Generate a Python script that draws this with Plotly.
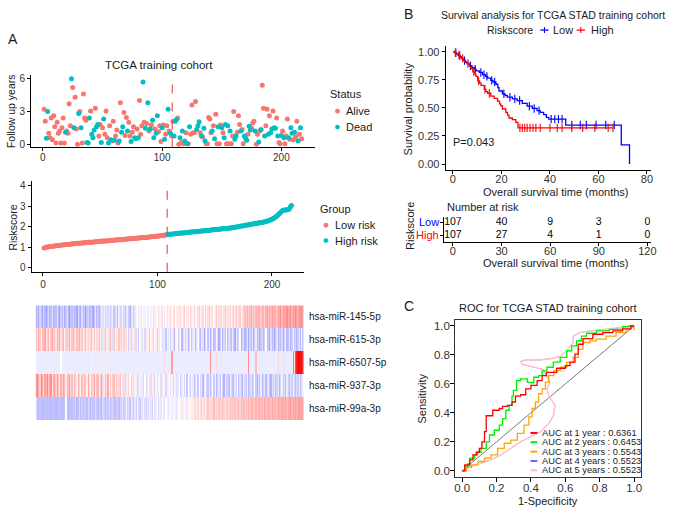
import bisect
import plotly.graph_objects as go

# ---------------- data ----------------
followup_low = [3.2, 2.1, 0.55, 3.0, 1.0, 0.6, 2.4, 0.4, 2.6, 1.6,
                0.1, 2.0, 1.0, 1.2, 0.1, 1.5, 2.4, 0.1, 1.1, 1.2,
                1.0, 3.7, 1.7, 6.0, 5.2, 1.5, 4.3, 1.4, 0.0, 2.8,
                3.0, 1.5, 0.1, 4.6, 2.4, 2.2, 0.15, 0.1, 2.4, 3.05,
                0.9, 0.6, 1.3, 3.3, 1.6, 1.8, 0.75, 1.8, 0.15, 1.5,
                2.3, 0.9, 3.05, 0.6, 0.1, 1.7, 0.4, 0.3, 2.1, 0.35,
                0.75, 1.3, 0.1, 0.3, 3.8, 1.1, 1.6, 2.9, 0.8, 2.45,
                1.2, 2.0, 0.75, 0.25, 1.1, 1.6, 0.6, 0.5, 1.4, 0.6,
                4.0, 0.9, 1.7, 5.7, 2.0, 1.45, 1.9, 3.8, 1.2, 1.4,
                1.75, 2.2, 0.6, 1.4, 1.0, 2.6, 1.15, 1.7, 0.25, 1.5,
                1.75, 0.45, 0.9, 1.7, 3.2, 1.2, 1.0, 0.75]
status_low = [0, 0, 1, 1, 0, 0, 0, 0, 0, 0,
              0, 0, 0, 0, 0, 0, 0, 0, 1, 0,
              0, 0, 0, 1, 0, 1, 0, 0, 0, 1,
              0, 1, 0, 0, 0, 0, 1, 1, 1, 0,
              1, 1, 1, 0, 1, 1, 0, 0, 1, 0,
              1, 0, 0, 0, 1, 0, 1, 0, 0, 1,
              0, 0, 0, 1, 0, 1, 1, 0, 0, 0,
              1, 0, 0, 1, 0, 0, 1, 1, 0, 1,
              0, 0, 0, 1, 0, 1, 0, 1, 0, 1,
              0, 1, 1, 0, 1, 1, 0, 0, 0, 1,
              0, 1, 0, 0, 1, 0, 1, 0]
followup_high = [2.1, 0.75, 2.1, 2.25, 2.4, 0.0, 0.6, 0.15, 1.2, 0.05,
                 0.3, 1.05, 0.05, 0.05, 1.6, 0.9, 3.6, 1.05, 1.05, 3.9,
                 1.35, 1.7, 2.05, 1.05, 0.75, 0.65, 1.45, 0.3, 0.05, 0.05,
                 2.45, 2.3, 1.05, 1.2, 1.7, 0.5, 2.75, 0.05, 1.6, 0.05,
                 1.75, 1.5, 1.05, 0.6, 1.8, 0.05, 1.7, 0.05, 1.2, 0.05,
                 0.75, 3.0, 0.45, 0.75, 1.1, 2.6, 1.8, 1.2, 1.35, 0.05,
                 0.75, 0.55, 0.35, 0.9, 1.65, 1.3, 1.45, 1.95, 2.1, 1.2,
                 0.0, 0.9, 0.2, 1.2, 1.35, 5.4, 3.3, 0.75, 1.7, 3.2,
                 0.9, 2.6, 1.05, 1.4, 3.05, 1.5, 1.45, 2.4, 0.75, 0.15,
                 0.05, 0.8, 1.2, 0.6, 0.05, 0.75, 2.3, 0.6, 0.45, 1.5,
                 1.0, 0.4, 1.1, 0.65, 2.1, 0.3, 0.9, 1.5, 0.5]
status_high = [0, 1, 1, 1, 0, 0, 1, 0, 1, 0,
               1, 0, 1, 0, 1, 0, 0, 0, 0, 0,
               1, 1, 1, 0, 1, 0, 1, 1, 0, 0,
               0, 0, 0, 1, 0, 1, 0, 0, 1, 0,
               0, 1, 0, 1, 1, 0, 1, 0, 1, 0,
               0, 0, 1, 1, 0, 0, 0, 1, 0, 0,
               1, 1, 1, 0, 1, 1, 0, 0, 0, 1,
               0, 0, 1, 0, 1, 0, 0, 1, 0, 0,
               1, 0, 1, 1, 0, 1, 1, 0, 1, 0,
               0, 1, 0, 1, 0, 0, 0, 1, 0, 1,
               1, 0, 1, 0, 0, 1, 0, 1, 0]

riskscore_low = [0.95, 0.97, 0.99, 1.00, 1.01, 1.02, 1.03, 1.04, 1.04, 1.05,
                 1.06, 1.07, 1.07, 1.08, 1.09, 1.09, 1.10, 1.11, 1.11, 1.12,
                 1.13, 1.13, 1.14, 1.14, 1.15, 1.16, 1.16, 1.17, 1.17, 1.18,
                 1.18, 1.19, 1.19, 1.20, 1.20, 1.21, 1.21, 1.22, 1.22, 1.23,
                 1.23, 1.24, 1.24, 1.25, 1.25, 1.26, 1.26, 1.27, 1.27, 1.28,
                 1.28, 1.29, 1.29, 1.30, 1.30, 1.30, 1.31, 1.31, 1.32, 1.32,
                 1.33, 1.33, 1.34, 1.34, 1.35, 1.35, 1.36, 1.36, 1.37, 1.37,
                 1.38, 1.38, 1.39, 1.39, 1.40, 1.40, 1.41, 1.41, 1.42, 1.42,
                 1.43, 1.43, 1.44, 1.44, 1.45, 1.45, 1.46, 1.46, 1.47, 1.47,
                 1.48, 1.48, 1.49, 1.50, 1.50, 1.51, 1.51, 1.52, 1.53, 1.53,
                 1.54, 1.55, 1.55, 1.56, 1.57, 1.58, 1.59, 1.60]
riskscore_high = [1.62, 1.62, 1.63, 1.63, 1.64, 1.64, 1.65, 1.66, 1.66, 1.67,
                  1.67, 1.68, 1.68, 1.69, 1.69, 1.70, 1.71, 1.71, 1.72, 1.72,
                  1.73, 1.73, 1.74, 1.74, 1.75, 1.76, 1.76, 1.77, 1.77, 1.78,
                  1.78, 1.79, 1.80, 1.80, 1.81, 1.81, 1.82, 1.82, 1.83, 1.84,
                  1.84, 1.85, 1.85, 1.86, 1.87, 1.87, 1.88, 1.88, 1.89, 1.90,
                  1.90, 1.91, 1.91, 1.92, 1.93, 1.93, 1.94, 1.95, 1.96, 1.97,
                  1.98, 1.99, 2.00, 2.01, 2.02, 2.03, 2.04, 2.05, 2.06, 2.07,
                  2.08, 2.09, 2.10, 2.11, 2.12, 2.13, 2.14, 2.15, 2.16, 2.17,
                  2.18, 2.19, 2.20, 2.21, 2.22, 2.23, 2.25, 2.27, 2.29, 2.31,
                  2.33, 2.36, 2.39, 2.42, 2.46, 2.50, 2.55, 2.60, 2.66, 2.72,
                  2.77, 2.79, 2.80, 2.81, 2.82, 2.83, 2.85, 2.95, 3.03]

mirna_names = ["hsa-miR-145-5p", "hsa-miR-615-3p", "hsa-miR-6507-5p",
               "hsa-miR-937-3p", "hsa-miR-99a-3p"]
expr_mir145 = [-1.2, -0.8, -1.4, -0.6, -1.0, -1.3, -0.7, -1.1, -1.5, -0.9,
               -0.6, -1.2, -1.0, -0.5, -1.3, -0.9, -1.1, -0.4, -1.2, -1.4,
               -0.8, -1.0, -0.6, -1.3, -0.9, -0.5, -1.1, -1.6, -0.8, -1.0,
               -0.7, -1.2, -0.9, -1.4, -0.6, -1.0, -1.3, -0.5, -1.1, -0.8,
               -1.5, -0.9, -0.6, -1.2, -1.0, -0.7, -1.4, -0.9, -0.4, -1.1,
               -0.8, -1.3, -0.6, -0.3, -0.5, -0.2, -0.7, -0.4, -0.6, -0.3,
               -0.8, -0.5, -0.2, -0.9, -0.6, -0.4, -1.0, -0.3, -0.7, -0.5,
               -0.2, -0.6, -0.9, -0.4, -0.3, -0.7, -1.1, -0.5, -0.2, -0.8,
               -0.4, -0.1, 0.1, -0.3, 0.2, -0.5, 0.0, 0.3, -0.2, 0.1,
               0.2, -0.4, 0.0, 0.3, -0.1, 0.4, -0.3, 0.2, 0.0, 0.5,
               0.3, -0.2, 0.6, 0.1, 0.4, -0.1, 0.5, 0.2, 0.3, 0.6,
               0.1, 0.4, 0.7, 0.0, 0.3, 0.5, -0.2, 0.6, 0.2, 0.4,
               0.8, 0.1, 0.3, 0.5, 0.0, 0.7, 0.4, 0.2, 0.6, 0.3,
               -0.1, 0.5, 0.8, 0.2, 0.4, 0.6, 0.1, 0.7, 0.3, 0.5,
               0.9, 0.2, 0.4, 0.6, 0.0, 0.5, 0.8, 0.3, 0.6, 0.4,
               0.7, 0.2, 0.5, 0.9, 0.3, 0.6, 0.4, 0.8, 0.1, 0.5,
               0.7, 0.4, 0.9, 0.3, 0.6, 0.8, 0.2, 0.5, 0.7, 1.0,
               0.9, 1.2, 0.7, 1.0, 1.3, 0.8, 1.1, 0.6, 1.2, 0.9,
               1.4, 1.0, 0.8, 1.3, 1.1, 0.7, 1.2, 1.5, 0.9, 1.3,
               1.1, 1.6, 1.0, 1.4, 1.2, 0.9, 1.5, 1.3, 1.7, 1.1,
               1.4, 1.6, 1.2, 1.8, 1.3, 1.5, 1.7, 1.2, 1.6, 1.4,
               1.8, 1.5, 1.3, 1.7, 1.6, 1.9, 1.4]
expr_mir615 = [1.0, 0.6, 1.3, 0.8, 0.2, 1.1, 0.9, 1.4, 0.5, 0.7,
               1.2, 0.3, 0.9, 1.5, 0.6, 1.0, 0.4, 1.1, 0.8, 1.3,
               0.5, 0.9, 1.2, 0.2, 0.8, 1.0, 0.6, 1.3, 0.4, 0.9,
               1.1, 0.7, 0.3, 1.0, 0.8, 1.2, 0.5, 0.9, 0.2, 0.7,
               1.0, 0.4, 0.8, -0.3, 0.6, 1.1, 0.3, 0.9, -0.2, 0.7,
               0.5, 1.0, 0.2, 0.8, -0.4, 0.6, 0.9, 0.3, -0.3, 0.7,
               1.0, 0.4, -0.5, 0.8, 0.2, 0.6, -0.2, 0.9, 0.5, -0.6,
               0.3, 0.7, -0.4, 0.5, 0.1, -0.7, 0.4, 0.8, -0.3, 0.2,
               0.6, -0.5, 0.3, -0.8, 0.1, 0.5, -0.4, 0.2, -0.6, 0.4,
               -0.2, 0.3, -0.7, 0.1, 0.5, -0.5, -0.1, 0.3, -0.8, 0.2,
               -0.4, 0.1, -0.6, 0.4, -0.3, -0.9, 0.2, -0.5, -0.1, -0.7,
               0.3, -0.6, -1.0, -0.2, 0.1, -0.8, -0.4, -0.1, -1.1, -0.5,
               0.2, -0.7, -0.3, -1.2, -0.6, 0.0, -0.9, -0.4, -0.2, -1.0,
               -0.6, 0.1, -0.8, -1.1, -0.3, -0.5, -1.3, -0.7, 0.0, -0.9,
               -0.4, -1.2, -0.6, -0.2, -1.0, -0.8, 0.2, -0.5, -1.3, -0.7,
               -0.3, -1.1, -0.6, -0.9, 0.0, -1.2, -0.5, -0.8, -1.0, -0.3,
               -0.7, -1.3, -0.4, -0.9, -0.6, 0.1, -1.1, -0.8, -0.5, -1.2,
               -0.9, -0.4, -1.3, -0.7, -1.0, -0.5, -1.2, -0.8, -0.3, -1.1,
               -0.6, -1.4, -0.9, -0.5, -1.2, -0.7, 0.0, -1.0, -0.8, -1.3,
               -0.5, -1.1, -0.7, -1.4, -0.9, -0.4, -1.2, -0.8, -1.0, -0.6,
               -1.3, -0.7, -0.2, -1.1, -0.9, -0.5, -1.2, -0.8, 0.1, -1.0,
               -0.6, -1.2, -0.8, -0.4, -1.1, -0.3, -0.9]
expr_mir6507 = [-0.3, -0.3, -0.3, -0.3, -0.3, -0.3, -0.3, -0.3, -0.3, -0.3,
                -0.3, -0.3, -0.3, -0.3, -0.3, -0.3, -0.3, -0.3, -0.3, -0.3,
                0.0, -0.3, -0.3, -0.3, -0.3, -0.3, -0.3, -0.3, -0.3, -0.3,
                -0.3, -0.3, -0.3, -0.3, -0.3, -0.3, -0.3, -0.3, -0.3, -0.3,
                -0.3, -0.3, -0.3, -0.3, -0.3, 0.2, -0.3, -0.3, -0.3, -0.3,
                -0.3, -0.3, -0.3, -0.3, -0.3, -0.3, -0.3, 0.3, -0.3, -0.3,
                -0.3, -0.3, -0.3, -0.3, -0.3, -0.3, -0.3, -0.3, -0.3, -0.3,
                -0.3, -0.3, -0.3, -0.3, -0.3, -0.3, -0.3, -0.3, -0.3, -0.3,
                -0.3, -0.3, -0.3, -0.3, -0.3, -0.3, -0.3, -0.3, -0.3, -0.3,
                -0.3, -0.3, -0.3, -0.3, -0.3, -0.3, -0.3, -0.3, -0.3, -0.3,
                -0.3, -0.3, -0.3, -0.3, 0.5, -0.3, -0.3, -0.3, -0.3, -0.3,
                1.5, -0.3, -0.3, -0.3, -0.3, -0.3, -0.3, -0.3, -0.3, -0.3,
                -0.3, -0.3, -0.3, -0.3, -0.3, -0.3, -0.3, -0.3, -0.3, -0.3,
                -0.3, -0.3, -0.3, -0.3, -0.3, -0.3, -0.3, -0.3, -0.3, -0.3,
                -0.3, 1.8, -0.3, -0.3, -0.3, -0.3, 0.6, -0.3, -0.3, -0.3,
                -0.3, -0.3, -0.3, -0.3, -0.3, -0.3, -0.3, -0.3, -0.3, -0.3,
                -0.3, -0.3, -0.3, -0.3, -0.3, -0.3, -0.3, -0.3, -0.3, -0.3,
                -0.3, -0.3, 1.8, -0.3, -0.3, -0.3, -0.3, -0.3, 1.0, -0.3,
                -0.3, -0.3, -0.3, -0.3, -0.3, -0.3, -0.3, -0.3, -0.3, -0.3,
                -0.3, -0.3, -0.3, -0.3, -0.3, -0.3, 0.7, -0.3, -0.3, -0.3,
                0.6, -0.3, -0.3, -0.3, -0.3, -0.3, -0.3, -0.3, 2.2, 0.5,
                2.8, 3.5, 3.8, 4.0, 3.6, 3.9, 3.2]
expr_mir937 = [1.6, 2.0, 1.2, 0.8, 1.8, 1.4, 0.6, 1.5, 1.1, 1.9,
               0.9, 1.3, 1.7, 0.5, 1.2, 1.6, 0.8, 1.4, 1.0, 0.4,
               1.3, 0.7, 1.5, 1.1, 0.3, 1.2, 0.9, 1.6, 0.6, 1.0,
               0.4, 1.1, 0.8, -0.2, 1.3, 0.7, 0.2, 1.0, 0.5, 1.2,
               0.8, 0.3, 1.4, 0.6, 0.0, 1.1, 0.7, 1.5, 0.4, 0.9,
               1.2, 0.2, 0.8, 1.6, 0.5, -0.3, 1.0, 0.6, 1.3, 0.3,
               0.9, -0.2, 0.7, 1.1, 0.4, 0.8, -0.4, 0.6, 1.0, 0.2,
               0.5, -0.5, 0.8, 0.3, -0.3, 0.7, 0.1, -0.6, 0.4, 0.6,
               -0.2, 0.3, 0.8, -0.5, 0.2, 0.5, -0.3, 0.7, 0.0, -0.6,
               0.4, 0.1, -0.4, 0.6, -0.2, 0.3, -0.7, 0.2, 0.5, -0.3,
               0.1, -0.5, 0.4, -0.1, 0.2, -0.6, 0.3, -0.2, 0.0, -0.4,
               0.2, -0.7, -0.1, 0.3, -0.5, -0.2, 0.1, -0.8, -0.3, 0.2,
               -0.6, -0.1, -0.9, 0.0, -0.4, -0.7, 0.2, -0.3, -1.0, -0.5,
               -0.2, -0.8, 0.1, -0.6, -0.3, -1.1, -0.4, 0.0, -0.7, -0.9,
               -0.3, -1.0, -0.5, 0.1, -0.8, -0.2, -1.1, -0.6, -0.4, -0.9,
               0.0, -0.7, -1.2, -0.3, -0.8, -0.5, -1.0, -0.2, -0.6, -0.9,
               -1.1, -0.4, -0.7, 0.1, -1.0, -0.5, -0.8, -1.2, -0.3, -0.6,
               -0.9, -0.2, -1.1, -0.7, -0.4, -1.0, -0.6, 0.0, -0.8, -1.2,
               -0.5, -0.9, -0.3, -1.1, -0.7, -0.4, -1.0, -0.6, -0.2, -0.9,
               -1.2, -0.5, -0.8, -0.3, -1.0, -0.7, -0.4, -1.1, -0.6, -0.2,
               -0.9, -0.5, -1.0, -0.3, -0.7, -1.1, -0.4, -0.8, -0.2, -0.6,
               -1.0, -0.5, -0.8, -0.3, -0.9, -0.6, -0.2]
expr_mir99a = [-0.6, -1.0, -1.1, -0.9, -1.0, -1.1, -1.0, -1.0, -0.9, -1.1,
               -1.0, -1.0, -1.1, -0.9, -1.0, -1.0, -1.1, -1.0, -1.0, -0.9,
               -1.0, -1.1, -1.0, -0.9, -0.1, -1.0, -1.0, -1.1, -0.9, -1.0,
               -0.8, -1.0, -0.7, -1.1, -0.9, -0.6, -1.0, -0.8, -1.1, -0.7,
               -0.9, -1.0, -0.6, -0.8, -1.1, -0.7, -0.9, -1.0, -0.5, -0.8,
               -1.0, -0.7, -0.9, -1.1, -0.6, -0.8, -1.0, -0.7, -0.9, -0.5,
               -1.0, -0.8, -0.6, -0.9, -1.1, -0.7, -0.8, -1.0, -0.6, -0.9,
               -0.4, -0.8, -0.6, -0.2, -0.7, -0.5, -0.9, -0.3, -0.6, -0.8,
               -0.4, -0.7, -0.2, -0.5, -0.8, -0.3, -0.6, -0.1, -0.5, -0.7,
               -0.3, -0.6, -0.2, -0.4, -0.7, -0.1, -0.5, -0.3, 0.0, -0.6,
               -0.2, -0.4, 0.1, -0.3, -0.5, 0.0, -0.2, -0.4, 0.2, -0.1,
               -0.3, 0.1, -0.2, 0.3, -0.4, 0.0, 0.2, -0.1, 0.4, -0.2,
               0.1, 0.3, -0.3, 0.2, 0.0, 0.4, -0.1, 0.3, 0.5, -0.6,
               0.2, 0.6, 0.3, 0.5, 0.8, 0.4, 0.7, 0.3, 0.6, 0.9,
               0.5, 0.8, 0.4, 0.7, 1.0, 0.6, 0.8, 0.5, 0.9, 0.7,
               0.6, 1.0, 0.7, 0.5, 0.9, 0.8, 0.6, 1.1, 0.7, 0.9,
               0.8, 1.0, 0.6, 0.9, 1.1, 0.7, 1.0, 0.8, 1.2, 0.9,
               1.0, 0.8, 1.2, 0.9, 1.1, 1.3, 0.8, 1.0, 1.2, 0.9,
               1.1, 1.3, 1.0, 1.2, 0.9, 1.4, 1.1, 1.0, 1.3, 1.2,
               1.0, 1.4, 1.2, 1.1, 1.3, 1.0, 1.5, 1.2, 1.1, 1.4,
               1.3, 1.2, 1.5, 1.1, 1.4, 1.3, 1.6, 1.2, 1.4, 1.3,
               1.5, 1.2, 1.4, 1.6, 1.3, 1.5, 1.4]

km_low_time = [0, 0.8, 1.5, 2.3, 3.0, 3.8, 4.5, 5.2, 6.0, 6.8,
               7.8, 8.8, 9.5, 10.9, 12.2, 13.5, 14.3, 15.6, 16.5, 17.7,
               18.5, 19.0, 20.4, 21.5, 22.4, 24.5, 26.5, 28.6, 30.6, 32.7,
               34.7, 36.0, 37.4, 38.5, 39.5, 46.5, 69.4, 72.8]
km_low_surv = [1.0, 0.99, 0.98, 0.965, 0.95, 0.935, 0.92, 0.905, 0.89, 0.875,
               0.86, 0.845, 0.83, 0.815, 0.795, 0.78, 0.765, 0.745, 0.73, 0.71,
               0.68, 0.65, 0.625, 0.61, 0.595, 0.58, 0.565, 0.54, 0.515, 0.495,
               0.475, 0.46, 0.44, 0.415, 0.40, 0.347, 0.17, 0.0]
km_low_censor = [1.2, 2.8, 4.8, 7.2, 9.2, 11.5, 12.8, 14.0, 16.0, 17.2, 21.0, 23.5,
                 25.5, 27.5, 31.5, 33.5, 35.5, 40.5, 42.0, 43.5, 45.0, 49.0, 52.5,
                 55.0, 59.0, 63.0, 66.5]
km_high_time = [0, 0.7, 1.4, 2.0, 2.8, 3.5, 4.3, 5.0, 5.8, 6.8,
                7.5, 8.2, 9.0, 9.5, 10.2, 11.0, 11.6, 12.9, 13.6, 14.3,
                15.6, 17.0, 18.4, 19.2, 19.7, 20.4, 21.8, 22.5, 23.1, 24.5,
                25.9, 26.8, 66.0]
km_high_surv = [1.0, 0.99, 0.98, 0.97, 0.955, 0.94, 0.925, 0.91, 0.895, 0.87,
                0.85, 0.82, 0.80, 0.78, 0.74, 0.72, 0.70, 0.665, 0.645, 0.63,
                0.605, 0.585, 0.56, 0.535, 0.52, 0.49, 0.46, 0.435, 0.41, 0.395,
                0.37, 0.322, 0.322]
km_high_censor = [1.0, 2.5, 4.0, 6.2, 8.6, 10.6, 13.2, 15.0, 27.6, 28.6, 29.6, 30.6,
                  31.8, 33.0, 34.2, 36.0, 40.0, 43.0, 45.0, 49.0, 53.5, 58.5, 64.0, 66.0]
risk_times = [0, 30, 60, 90, 120]
risk_low = [107, 40, 9, 3, 0]
risk_high = [107, 27, 4, 1, 0]
p_value_text = "P=0.043"

roc1_fpr = [0, 0.015, 0.044, 0.063, 0.082, 0.10, 0.115, 0.13, 0.14, 0.178,
            0.216, 0.235, 0.264, 0.29, 0.31, 0.34, 0.37, 0.40, 0.436, 0.465,
            0.49, 0.55, 0.60, 0.627, 0.656, 0.675, 0.703, 0.76, 0.818, 0.876,
            0.933, 0.98, 1.0]
roc1_tpr = [0, 0.04, 0.075, 0.11, 0.128, 0.155, 0.2, 0.27, 0.38, 0.418,
            0.43, 0.445, 0.452, 0.475, 0.516, 0.525, 0.566, 0.59, 0.623, 0.657,
            0.68, 0.708, 0.726, 0.75, 0.806, 0.874, 0.913, 0.943, 0.954, 0.966,
            0.98, 1.0, 1.0]
roc2_fpr = [0, 0.015, 0.034, 0.044, 0.073, 0.09, 0.11, 0.14, 0.159, 0.187,
            0.216, 0.235, 0.254, 0.273, 0.29, 0.298, 0.317, 0.34, 0.38, 0.407,
            0.417, 0.445, 0.465, 0.493, 0.53, 0.57, 0.608, 0.637, 0.665, 0.694,
            0.723, 0.78, 0.857, 0.933, 0.97, 1.0]
roc2_tpr = [0, 0.03, 0.05, 0.087, 0.11, 0.128, 0.155, 0.2, 0.247, 0.28,
            0.315, 0.36, 0.418, 0.452, 0.516, 0.555, 0.623, 0.635, 0.61, 0.607,
            0.646, 0.657, 0.69, 0.715, 0.75, 0.783, 0.829, 0.863, 0.897, 0.93,
            0.95, 0.966, 0.977, 0.995, 1.0, 1.0]
roc3_fpr = [0, 0.025, 0.054, 0.092, 0.13, 0.168, 0.206, 0.245, 0.283, 0.321,
            0.36, 0.388, 0.407, 0.426, 0.445, 0.465, 0.484, 0.503, 0.532, 0.57,
            0.608, 0.646, 0.675, 0.703, 0.742, 0.78, 0.837, 0.895, 0.952, 0.98,
            1.0]
roc3_tpr = [0, 0.023, 0.041, 0.064, 0.087, 0.11, 0.155, 0.19, 0.212, 0.258,
            0.315, 0.372, 0.43, 0.475, 0.532, 0.566, 0.612, 0.657, 0.692, 0.715,
            0.749, 0.783, 0.84, 0.886, 0.897, 0.909, 0.93, 0.954, 0.977, 0.99,
            0.97]
roc5_fpr = [0, 0.054, 0.11, 0.168, 0.226, 0.283, 0.34, 0.398, 0.455, 0.503,
            0.532, 0.54, 0.503, 0.493, 0.512, 0.47, 0.40, 0.35, 0.34, 0.37,
            0.45, 0.52, 0.57, 0.608, 0.646, 0.646, 0.685, 0.742, 0.837, 0.933,
            0.98, 1.0]
roc5_tpr = [0, 0.03, 0.053, 0.075, 0.11, 0.155, 0.2, 0.235, 0.27, 0.326,
            0.384, 0.452, 0.52, 0.566, 0.612, 0.70, 0.72, 0.735, 0.755, 0.765,
            0.765, 0.775, 0.79, 0.83, 0.886, 0.93, 0.954, 0.966, 0.977, 0.989,
            1.0, 1.0]
roc4_fpr = roc5_fpr  # 4-year curve lies under the 5-year curve (same AUC)
roc4_tpr = roc5_tpr
roc_diag = [0, 1]
auc_labels = ["AUC at 1 year : 0.6361", "AUC at 2 years : 0.6453",
              "AUC at 3 years : 0.5543", "AUC at 4 years : 0.5523",
              "AUC at 5 years : 0.5523"]

# ---------------- helpers ----------------
W, H = 677, 513
FONT = "Liberation Sans, Arial, Helvetica, sans-serif"
TXT = "#1a1a1a"
GG_RED, GG_TEAL = "#F8766D", "#00BFC4"


def fx(p):
    return p / W


def fy(p):
    return 1 - p / H


def ann(text, x, y, size=11, xa="center", ya="middle", angle=0, color=TXT):
    return dict(text=text, x=fx(x), y=fy(y), xref="paper", yref="paper",
                xanchor=xa, yanchor=ya, textangle=angle, showarrow=False,
                font=dict(size=size, color=color, family=FONT))


def axis(dom, rng, anchor, size=10, **kw):
    d = dict(domain=dom, range=rng, anchor=anchor, showgrid=False, zeroline=False,
             showline=True, linecolor="black", linewidth=1, ticks="outside",
             ticklen=3, tickwidth=1, tickcolor="black",
             tickfont=dict(size=size, color="#333333", family=FONT))
    d.update(kw)
    return d


def surv_at(times, survs, t):
    i = bisect.bisect_right(times, t) - 1
    return survs[max(i, 0)]


fig = go.Figure()

# ---------------- panel A: follow-up scatter ----------------
followup = followup_low + followup_high
status = status_low + status_high
n = len(followup)
idx = list(range(1, n + 1))
cut = len(followup_low) + 0.5
for st, col, name in [(0, GG_RED, "Alive"), (1, GG_TEAL, "Dead")]:
    fig.add_trace(go.Scatter(
        x=[i for i, s in zip(idx, status) if s == st],
        y=[v for v, s in zip(followup, status) if s == st],
        mode="markers", name=name, marker=dict(color=col, size=5),
        xaxis="x", yaxis="y", showlegend=False))

# risk score scatter
nl = len(riskscore_low)
fig.add_trace(go.Scatter(x=list(range(1, nl + 1)), y=riskscore_low, mode="markers",
                         marker=dict(color=GG_RED, size=5), xaxis="x2", yaxis="y2",
                         showlegend=False))
fig.add_trace(go.Scatter(x=list(range(nl + 1, nl + len(riskscore_high) + 1)),
                         y=riskscore_high, mode="markers",
                         marker=dict(color=GG_TEAL, size=5), xaxis="x2", yaxis="y2",
                         showlegend=False))

# heatmap
heat = [expr_mir145, expr_mir615, expr_mir6507, expr_mir937, expr_mir99a]
fig.add_trace(go.Heatmap(z=heat, x=list(range(1, len(expr_mir145) + 1)),
                         y=list(range(len(heat))), xaxis="x3", yaxis="y3",
                         colorscale=[[0, "#0000FF"], [0.5, "#FFFFFF"], [1, "#FF0000"]],
                         zmin=-4, zmax=4, showscale=False, hoverinfo="skip"))

# ---------------- panel B: KM ----------------
KM_BLUE, KM_RED = "#0000FF", "#FF0000"
for t, s, c, col in [(km_low_time, km_low_surv, km_low_censor, KM_BLUE),
                     (km_high_time, km_high_surv, km_high_censor, KM_RED)]:
    fig.add_trace(go.Scatter(x=t, y=s, mode="lines", line=dict(color=col, width=1.3, shape="hv"),
                             xaxis="x4", yaxis="y4", showlegend=False))
    fig.add_trace(go.Scatter(x=c, y=[surv_at(t, s, v) for v in c], mode="markers",
                             marker=dict(symbol="line-ns", size=6,
                                         line=dict(color=col, width=1.1)),
                             xaxis="x4", yaxis="y4", showlegend=False))

# risk table
for vals, yv in [(risk_low, 1), (risk_high, 0)]:
    fig.add_trace(go.Scatter(x=risk_times, y=[yv] * len(vals), mode="text",
                             text=[str(v) for v in vals],
                             textfont=dict(size=10.5, color="black", family=FONT),
                             xaxis="x5", yaxis="y5", showlegend=False))

# ---------------- panel C: ROC ----------------
ROC_COLS = ["#FF0000", "#00EE00", "#FFA500", "#6B6BF5", "#FFC0CB"]
fig.add_trace(go.Scatter(x=roc_diag, y=roc_diag, mode="lines",
                         line=dict(color="#555555", width=0.8),
                         xaxis="x6", yaxis="y6", showlegend=False))
roc_sets = [(roc4_fpr, roc4_tpr, ROC_COLS[3], "linear", 0.6),
            (roc5_fpr, roc5_tpr, ROC_COLS[4], "linear", 1.4),
            (roc3_fpr, roc3_tpr, ROC_COLS[2], "hv", 1.3),
            (roc2_fpr, roc2_tpr, ROC_COLS[1], "hv", 1.3),
            (roc1_fpr, roc1_tpr, ROC_COLS[0], "hv", 1.3)]
for fx_, ty_, col, shp, lw in roc_sets:
    fig.add_trace(go.Scatter(x=fx_, y=ty_, mode="lines",
                             line=dict(color=col, width=lw, shape=shp),
                             xaxis="x6", yaxis="y6", showlegend=False))

# ---------------- layout ----------------
shapes = []
for xa, ya in [("x", "y"), ("x2", "y2")]:
    shapes.append(dict(type="line", xref=xa, yref=ya + " domain", x0=cut, x1=cut, y0=0, y1=1,
                       line=dict(color="#E8554E", width=1.2, dash="dash")))

annotations = []
# panel letters
annotations += [ann("A", 5, 37, size=14, xa="left"), ann("B", 412, 12, size=14),
                ann("C", 412, 306, size=14)]
# panel A texts
annotations += [ann("TCGA training cohort", 160, 63, size=11.5),
                ann("Follow up years", 10, 110, size=10.5, angle=-90),
                ann("Riskscore", 12.5, 227, size=10.5, angle=-90),
                ann("Status", 330, 93, size=11, xa="left"),
                ann("Alive", 346.5, 110, size=11, xa="left"),
                ann("Dead", 346.5, 126, size=11, xa="left"),
                ann("Group", 320, 208.5, size=11, xa="left"),
                ann("Low risk", 335, 225, size=11, xa="left"),
                ann("High risk", 335, 240.5, size=11, xa="left")]
for cx, cy, col in [(340, 110, GG_RED), (340, 126, GG_TEAL),
                    (328.3, 225, GG_RED), (328.3, 240.5, GG_TEAL)]:
    r = 2.4
    shapes.append(dict(type="circle", xref="paper", yref="paper", x0=fx(cx - r), x1=fx(cx + r),
                       y0=fy(cy + r), y1=fy(cy - r), fillcolor=col, line=dict(width=0)))
row_top, row_h = 305.7, 23.12
for i, name in enumerate(mirna_names):
    annotations.append(ann(name, 308.7, row_top + row_h * (i + 0.5), size=10, xa="left"))

# panel B texts
annotations += [ann("Survival analysis for TCGA STAD training cohort", 557.5, 12.7, size=10.5),
                ann("Riskscore", 489.5, 28.3, size=10.5, xa="left"),
                ann("Low", 556, 28.3, size=11, xa="left"),
                ann("High", 594, 28.3, size=11, xa="left"),
                ann("Survival probability", 411.5, 108, size=11, angle=-90),
                ann("Overall survival time (months)", 560, 191, size=11),
                dict(text=p_value_text, x=-0.9, y=0.2, xref="x4", yref="y4", xanchor="left",
                     yanchor="middle", showarrow=False, font=dict(size=11, color=TXT, family=FONT)),
                ann("Number at risk", 448.3, 206.7, size=11, xa="left"),
                ann("Low", 444.5, 221.7, size=11, xa="right", color=KM_BLUE),
                ann("High", 444.5, 235.2, size=11, xa="right", color=KM_RED),
                ann("Riskscore", 414, 226, size=11, angle=-90),
                ann("Overall survival time (months)", 560, 263.3, size=11)]
for x0, x1, col in [(545, 553.3, KM_BLUE), (581.7, 590, KM_RED)]:
    shapes.append(dict(type="line", xref="paper", yref="paper", x0=fx(x0), x1=fx(x1),
                       y0=fy(28.3), y1=fy(28.3), line=dict(color=col, width=1.3)))
    xm = (x0 + x1) / 2
    shapes.append(dict(type="line", xref="paper", yref="paper", x0=fx(xm), x1=fx(xm),
                       y0=fy(31.3), y1=fy(25.3), line=dict(color=col, width=1.1)))

# panel C texts
annotations += [ann("ROC for TCGA STAD training cohort", 552, 308.3, size=11),
                ann("Sensitivity", 425, 400, size=11, angle=-90),
                ann("1-Specificity", 553, 503, size=11)]
leg_y = [434.3, 443.7, 453.2, 462.6, 472.0]
for i, (lab, col) in enumerate(zip(auc_labels, ROC_COLS)):
    shapes.append(dict(type="line", xref="paper", yref="paper", x0=fx(535), x1=fx(542),
                       y0=fy(leg_y[i]), y1=fy(leg_y[i]), line=dict(color=col, width=2)))
    annotations.append(ann(lab, 544.3, leg_y[i], size=9.3, xa="left"))

roc_ticks = [0, 0.2, 0.4, 0.6, 0.8, 1.0]
fig.update_layout(
    width=W, height=H, margin=dict(l=0, r=0, t=0, b=0),
    paper_bgcolor="white", plot_bgcolor="white", showlegend=False,
    font=dict(family=FONT, color=TXT),
    xaxis=axis([fx(30.5), fx(316.8)], [-9.8, 227.8], "y", tickvals=[0, 100, 200],
               ticklabelstandoff=-2),
    yaxis=axis([fy(146.6), fy(74)], [-0.3, 6.3], "x", tickvals=[0, 3, 6]),
    xaxis2=axis([fx(31), fx(306)], [-9.8, 227.8], "y2", tickvals=[0, 100, 200]),
    yaxis2=axis([fy(271.8), fy(180.8)], [-0.2, 4.2], "x2", tickvals=[0, 1, 2, 3, 4]),
    xaxis3=dict(domain=[fx(35), fx(306)], range=[0.5, len(expr_mir145) + 0.5], anchor="y3",
                visible=False),
    yaxis3=dict(domain=[fy(421.3), fy(305.7)], range=[4.5, -0.5], anchor="x3", visible=False),
    xaxis4=axis([fx(449.3), fx(656.4)], [-3.0, 81.5], "y4", size=11,
                tickvals=[0, 20, 40, 60, 80], ticklabelstandoff=-4),
    yaxis4=axis([fy(169), fy(44.4)], [-0.05, 1.05], "x4", size=11,
                tickvals=[0, 0.25, 0.5, 0.75, 1.0],
                ticktext=["0.00", "0.25", "0.50", "0.75", "1.00"]),
    xaxis5=axis([fx(447.3), fx(656.4)], [-5.7, 122], "y5", size=11, tickvals=risk_times,
                ticklabelstandoff=-4),
    yaxis5=axis([fy(241.7), fy(217)], [-0.47, 1.35], "x5", tickvals=[0, 1],
                showticklabels=False),
    xaxis6=axis([fx(459), fx(646.7)], [-0.04, 1.04], "y6", size=11.5, tickvals=roc_ticks,
                ticktext=["%.1f" % v for v in roc_ticks], mirror=True, ticklen=4,
                linecolor="#333333", ticklabelstandoff=-3),
    yaxis6=axis([fy(478.3), fy(320.7)], [-0.04, 1.04], "x6", size=11.5, tickvals=roc_ticks,
                ticktext=["%.1f" % v for v in roc_ticks], mirror=True, ticklen=4,
                linecolor="#333333", ticklabelstandoff=-2),
    shapes=shapes, annotations=annotations,
)

fig.write_html("out.html", config={"displayModeBar": False},
               post_script="document.body.style.margin='0';document.body.style.padding='0';")
